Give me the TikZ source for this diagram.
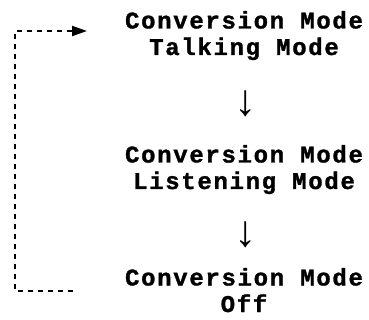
\documentclass[tikz,border=0pt]{standalone}
\usepackage{fontspec}
\usetikzlibrary{arrows.meta}
\newfontfamily\modefont[LetterSpace=7,BoldFeatures={FakeBold=1.2}]{Liberation Mono}
\newfontfamily\arrowfont{Liberation Mono}

\begin{document}
\begin{tikzpicture}[x=1pt,y=-1pt,>={Triangle[length=15pt,width=10pt]}]
\tikzset{modebox/.style={align=center,anchor=base,inner sep=0pt,font=\modefont\bfseries\fontsize{24}{26.5}\selectfont},
  downarrow/.style={inner sep=0pt,font=\arrowfont\fontsize{44}{44}\selectfont}}
\useasboundingbox (0,0) rectangle (369,320);
\node[modebox] (talk) at (244,55) {Conversion Mode\\Talking Mode};
\node[downarrow] (arr1) at (246,104) {↓};
\node[modebox] (listen) at (244,189) {Conversion Mode\\Listening Mode};
\node[downarrow] (arr2) at (246,235) {↓};
\node[modebox] (off) at (244,312) {Conversion Mode\\Off};
% loop back from off to talk
\coordinate (loopS) at (73,291);
\coordinate (loopE) at (87,31);
\draw[->,line width=2pt,dash pattern=on 5pt off 5pt] (loopS) -| (15,31) -- (loopE);
\end{tikzpicture}
\end{document}
